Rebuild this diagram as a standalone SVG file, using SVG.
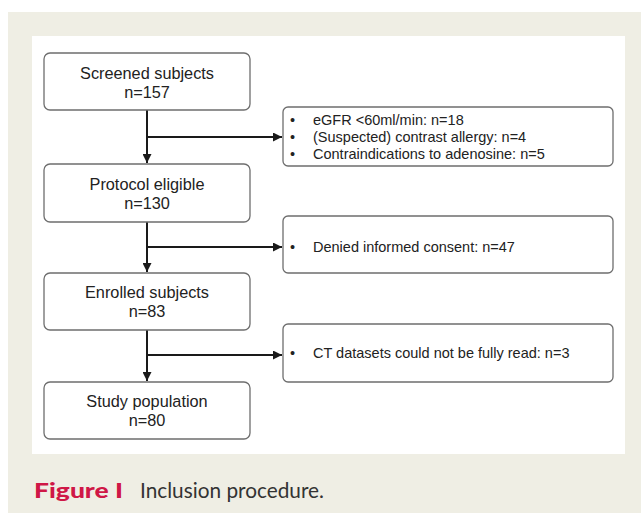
<svg xmlns="http://www.w3.org/2000/svg" width="641" height="513" viewBox="0 0 641 513">
<style>
.box{fill:#fff;stroke:#6e6e6e;stroke-width:1.3}
.t{font-family:"Liberation Sans",Arial,sans-serif;font-size:16.3px;fill:#222;text-anchor:middle}
.s{font-family:"Liberation Sans",Arial,sans-serif;font-size:14.5px;fill:#222}
.c{stroke:#1a1a1a;stroke-width:2;fill:none}
.cap{font-family:Lato,"Open Sans",sans-serif;font-size:21px}
</style>
<defs>
<marker id="ah" viewBox="0 0 10 10" refX="10" refY="5" markerWidth="9" markerHeight="9" markerUnits="userSpaceOnUse" orient="auto">
<path d="M0,0 L10,5 L0,10 z" fill="#1a1a1a"/>
</marker>
</defs>
<rect x="8" y="12" width="633" height="501" fill="#efeee4"/>
<rect x="32" y="36" width="593" height="418" fill="#fff"/>
<g id="connectors">
<line class="c" x1="147" y1="110" x2="147" y2="163" marker-end="url(#ah)"/>
<line class="c" x1="147" y1="137" x2="282" y2="137" marker-end="url(#ah)"/>
<line class="c" x1="147" y1="222" x2="147" y2="272" marker-end="url(#ah)"/>
<line class="c" x1="147" y1="247" x2="282" y2="247" marker-end="url(#ah)"/>
<line class="c" x1="147" y1="330" x2="147" y2="381" marker-end="url(#ah)"/>
<line class="c" x1="147" y1="355" x2="282" y2="355" marker-end="url(#ah)"/>
</g>
<g id="screened">
<rect class="box" x="44" y="53" width="206" height="57" rx="6"/>
<text class="t" x="147" y="79">Screened subjects</text>
<text class="t" x="147" y="98">n=157</text>
</g>
<g id="protocol">
<rect class="box" x="44" y="164" width="206" height="58" rx="6"/>
<text class="t" x="147" y="190">Protocol eligible</text>
<text class="t" x="147" y="209">n=130</text>
</g>
<g id="enrolled">
<rect class="box" x="44" y="273" width="206" height="57" rx="6"/>
<text class="t" x="147" y="298">Enrolled subjects</text>
<text class="t" x="147" y="317">n=83</text>
</g>
<g id="study">
<rect class="box" x="44" y="382" width="206" height="57" rx="6"/>
<text class="t" x="147" y="407">Study population</text>
<text class="t" x="147" y="426">n=80</text>
</g>
<g id="excl1">
<rect class="box" x="283" y="107" width="330" height="59" rx="5"/>
<text class="s" x="290" y="125">•</text>
<text class="s" x="313" y="125">eGFR &lt;60ml/min: n=18</text>
<text class="s" x="290" y="142">•</text>
<text class="s" x="313" y="142">(Suspected) contrast allergy: n=4</text>
<text class="s" x="290" y="159">•</text>
<text class="s" x="313" y="159">Contraindications to adenosine: n=5</text>
</g>
<g id="excl2">
<rect class="box" x="283" y="216" width="330" height="57" rx="5"/>
<text class="s" x="290" y="252">•</text>
<text class="s" x="313" y="252">Denied informed consent: n=47</text>
</g>
<g id="excl3">
<rect class="box" x="283" y="324" width="330" height="58" rx="5"/>
<text class="s" x="290" y="358">•</text>
<text class="s" x="313" y="358">CT datasets could not be fully read: n=3</text>
</g>
<g id="caption">
<text class="cap" x="34" y="498" fill="#cf1746" font-weight="900" font-size="22px" textLength="89" lengthAdjust="spacingAndGlyphs">Figure I</text>
<text class="cap" x="140" y="498" fill="#333" textLength="184" lengthAdjust="spacingAndGlyphs">Inclusion procedure.</text>
</g>
</svg>
